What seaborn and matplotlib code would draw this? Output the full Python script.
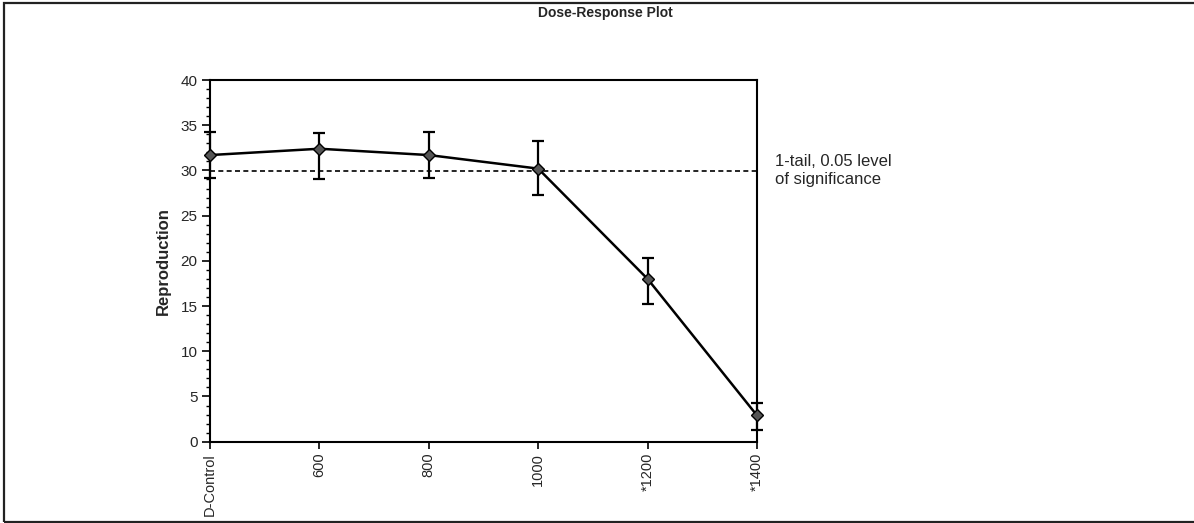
import matplotlib
matplotlib.use("Agg")
import matplotlib.pyplot as plt
from matplotlib.patches import Rectangle
from matplotlib.ticker import MultipleLocator
import numpy as np
import pandas as pd
import seaborn as sns

# Dose groups and mean reproduction with error bar limits
doses = ["D-Control", "600", "800", "1000", "*1200", "*1400"]
reproduction = [31.7, 32.4, 31.7, 30.2, 18.0, 2.9]
lower_limit = [29.2, 29.1, 29.2, 27.3, 15.2, 1.3]
upper_limit = [34.2, 34.1, 34.2, 33.3, 20.3, 4.3]
significance_level = 29.9

sns.set_theme(style="white")
plt.rcParams["font.family"] = ["Liberation Sans", "DejaVu Sans"]

df = pd.DataFrame({"pos": np.arange(len(doses)), "dose": doses,
                   "reproduction": reproduction})

fig = plt.figure(figsize=(11.94, 5.23), dpi=100)
ax = fig.add_axes([0.1759, 0.1555, 0.634 - 0.1759, 0.847 - 0.1555])

# Outer frame around the chart
fig.patches.append(Rectangle((0.0034, 0.0025), 1.2, 0.9918, transform=fig.transFigure,
                             fill=False, edgecolor="#222222", linewidth=1.6))

# Significance threshold
ax.axhline(significance_level, color="black", linestyle=(0, (3, 2)), linewidth=1.2, zorder=1)

yerr = np.array([np.array(reproduction) - np.array(lower_limit),
                 np.array(upper_limit) - np.array(reproduction)])
ax.errorbar(df["pos"], df["reproduction"], yerr=yerr, fmt="none", ecolor="black",
            elinewidth=1.6, capsize=4, capthick=1.6, zorder=2, clip_on=False)

sns.lineplot(data=df, x="pos", y="reproduction", ax=ax, color="black", linewidth=1.8,
             marker="D", markersize=6, markerfacecolor="#555555",
             markeredgecolor="black", markeredgewidth=1.0, zorder=3, clip_on=False)

ax.set_xlim(0, len(doses) - 1)
ax.set_ylim(0, 40)
ax.set_xticks(df["pos"])
ax.set_xticklabels(doses, rotation=90, fontsize=10.5)
ax.yaxis.set_major_locator(MultipleLocator(5))
ax.yaxis.set_minor_locator(MultipleLocator(1))
ax.tick_params(axis="y", which="major", direction="out", length=6, width=1.2,
               labelsize=11, left=True, pad=3, color="black")
ax.tick_params(axis="y", which="minor", direction="out", length=3, width=1.0,
               left=True, color="black")
ax.tick_params(axis="x", which="major", direction="out", length=5, width=1.2,
               bottom=True, pad=3, color="black")
ax.set_xlabel("")
ax.set_ylabel("Reproduction", fontsize=12, fontweight="bold", labelpad=7)
for side in ["left", "right", "top", "bottom"]:
    ax.spines[side].set_visible(True)
    ax.spines[side].set_color("black")
    ax.spines[side].set_linewidth(1.5)

ax.text(1.033, significance_level + 0.1, "1-tail, 0.05 level\nof significance",
        transform=ax.get_yaxis_transform(), fontsize=12, va="center", ha="left",
        linespacing=1.25)

fig.text(0.507, 0.976, "Dose-Response Plot", ha="center", va="center", fontsize=10,
         fontweight="bold", family=["Liberation Sans Narrow", "Liberation Sans", "DejaVu Sans"])

fig.savefig("out.png", dpi=100)
